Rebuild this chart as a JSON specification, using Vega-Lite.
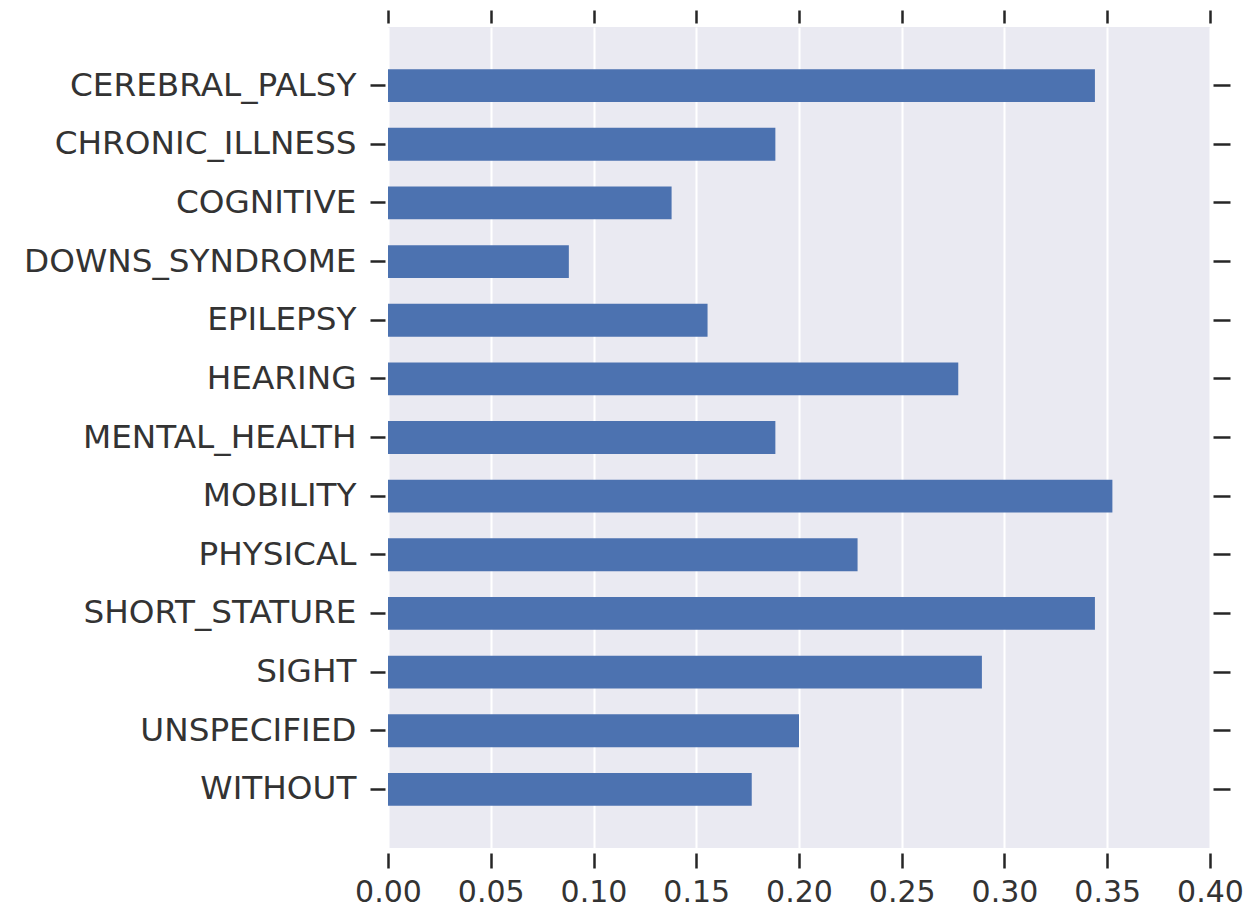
{
  "$schema": "https://vega.github.io/schema/vega-lite/v6.json",
  "autosize": {"type": "none"},
  "padding": {"left": 388, "top": 27, "right": 47, "bottom": 68},
  "width": 822,
  "height": 821,
  "background": "white",
  "data": {
    "values": [
      {"category": "CEREBRAL_PALSY", "value": 0.344},
      {"category": "CHRONIC_ILLNESS", "value": 0.1885},
      {"category": "COGNITIVE", "value": 0.138},
      {"category": "DOWNS_SYNDROME", "value": 0.088},
      {"category": "EPILEPSY", "value": 0.1555},
      {"category": "HEARING", "value": 0.2775},
      {"category": "MENTAL_HEALTH", "value": 0.1885},
      {"category": "MOBILITY", "value": 0.3525},
      {"category": "PHYSICAL", "value": 0.2285},
      {"category": "SHORT_STATURE", "value": 0.344},
      {"category": "SIGHT", "value": 0.289},
      {"category": "UNSPECIFIED", "value": 0.2},
      {"category": "WITHOUT", "value": 0.177}
    ]
  },
  "layer": [
    {
      "mark": {"type": "bar", "color": "#4C72B0"},
      "encoding": {
        "y": {
          "field": "category",
          "type": "nominal",
          "sort": null,
          "scale": {"paddingInner": 0.44, "paddingOuter": 0.72},
          "axis": {
            "orient": "left",
            "title": null,
            "domain": false,
            "grid": false,
            "ticks": true,
            "tickSize": 15,
            "tickWidth": 2.5,
            "tickColor": "#262626",
            "offset": 3,
            "labelPadding": 14,
            "labelLimit": 0,
            "labelFont": "DejaVu Sans",
            "labelFontSize": 32.7,
            "labelColor": "#333333"
          }
        },
        "x": {
          "field": "value",
          "type": "quantitative",
          "scale": {"domain": [0, 0.4], "nice": false, "zero": true},
          "axis": {
            "orient": "bottom",
            "title": null,
            "values": [0, 0.05, 0.1, 0.15, 0.2, 0.25, 0.3, 0.35, 0.4],
            "format": ".2f",
            "domain": false,
            "grid": true,
            "gridColor": "white",
            "gridWidth": 2,
            "gridOpacity": 1,
            "ticks": true,
            "tickSize": 15,
            "tickWidth": 2.5,
            "tickColor": "#262626",
            "offset": 5,
            "labelPadding": 9,
            "labelFlush": false,
            "labelOverlap": false,
            "labelFont": "DejaVu Sans",
            "labelFontSize": 30,
            "labelColor": "#333333"
          }
        }
      }
    },
    {
      "mark": {"type": "bar", "opacity": 0},
      "encoding": {
        "y": {
          "field": "category",
          "type": "nominal",
          "sort": null,
          "axis": {
            "orient": "right",
            "title": null,
            "domain": false,
            "grid": false,
            "labels": false,
            "ticks": true,
            "tickSize": 17,
            "tickWidth": 2.5,
            "tickColor": "#262626",
            "offset": 3
          }
        },
        "x": {
          "field": "value",
          "type": "quantitative",
          "axis": {
            "orient": "top",
            "title": null,
            "values": [0, 0.05, 0.1, 0.15, 0.2, 0.25, 0.3, 0.35, 0.4],
            "domain": false,
            "grid": false,
            "labels": false,
            "ticks": true,
            "tickSize": 13,
            "tickWidth": 2.5,
            "tickColor": "#262626",
            "offset": 4
          }
        }
      }
    }
  ],
  "resolve": {"axis": {"x": "independent", "y": "independent"}},
  "config": {
    "view": {"fill": "#EAEAF2", "stroke": null}
  }
}
